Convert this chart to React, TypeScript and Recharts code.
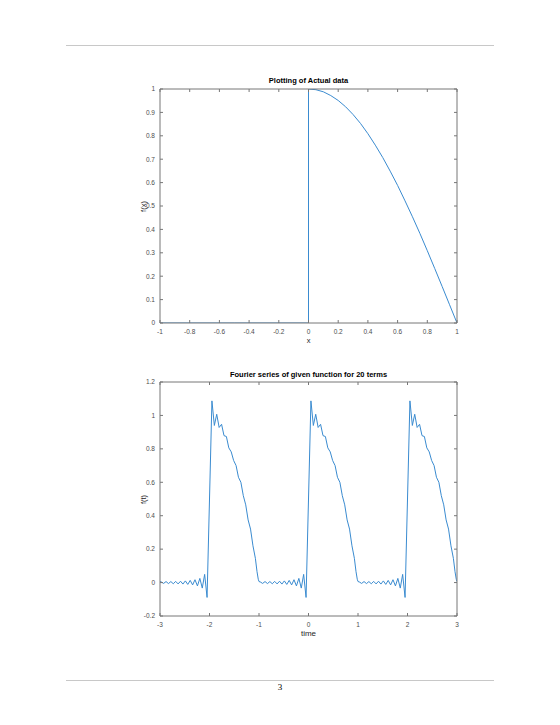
import React from 'react';
import { LineChart, Line, XAxis, YAxis } from 'recharts';

// plot 1: piecewise function
const ACTUAL_X = [-1, -0.5, 0, 0, 0.05, 0.1, 0.15, 0.2, 0.25, 0.3, 0.35, 0.4, 0.45, 0.5, 0.55, 0.6, 0.65, 0.7, 0.75, 0.8, 0.85, 0.9, 0.95, 1];
const ACTUAL_Y = [0, 0, 0, 1, 0.997, 0.988, 0.972, 0.951, 0.924, 0.891, 0.853, 0.809, 0.76, 0.707, 0.649, 0.588, 0.522, 0.454, 0.383, 0.309, 0.233, 0.156, 0.078, 0];
const ACTUAL_X_TICKS = [-1, -0.8, -0.6, -0.4, -0.2, 0, 0.2, 0.4, 0.6, 0.8, 1];
const ACTUAL_Y_TICKS = [0, 0.1, 0.2, 0.3, 0.4, 0.5, 0.6, 0.7, 0.8, 0.9, 1];

// plot 2: one period of the 20-term Fourier sum (t relative to the jump), repeated every 2
const PERIOD_T = [-1, -0.976, -0.927, -0.878, -0.829, -0.78, -0.732, -0.683, -0.634, -0.585, -0.537, -0.488, -0.439, -0.39, -0.341, -0.293, -0.244, -0.195, -0.146, -0.098, -0.049, 0, 0.049, 0.098, 0.146, 0.195, 0.244, 0.293, 0.341, 0.39, 0.439, 0.488, 0.537, 0.585, 0.634, 0.683, 0.732, 0.78, 0.829, 0.878, 0.927, 0.96, 0.985];
const PERIOD_V = [0.006, 0.004, -0.005, 0.006, -0.006, 0.006, -0.007, 0.007, -0.008, 0.008, -0.009, 0.01, -0.011, 0.013, -0.014, 0.017, -0.02, 0.025, -0.033, 0.049, -0.089, 0.5, 1.087, 0.94, 1.007, 0.928, 0.947, 0.879, 0.874, 0.806, 0.782, 0.73, 0.7, 0.63, 0.6, 0.52, 0.465, 0.375, 0.32, 0.22, 0.145, 0.065, 0.02];
const JUMPS = [-2, 0, 2];
const FOURIER_X_TICKS = [-3, -2, -1, 0, 1, 2, 3];
const FOURIER_Y_TICKS = [-0.2, 0, 0.2, 0.4, 0.6, 0.8, 1, 1.2];

const actualData = ACTUAL_X.map((x, i) => ({ x, y: ACTUAL_Y[i] }));
const fourierData = JUMPS.flatMap((c) => PERIOD_T.map((t, i) => ({ t: c + t, v: PERIOD_V[i] })));
fourierData.push({ t: 3, v: PERIOD_V[0] });

const BLUE = '#3a8bd0';
const AXIS = '#777777';
const FONT = '"Liberation Sans", Arial, Helvetica, sans-serif';
const tickStyle = { fill: '#4d4d4d', fontSize: 6.5, fontFamily: FONT };
const NoTick = () => <g />;

type PlotProps = {
    data: { [k: string]: number }[];
    xKey: string;
    yKey: string;
    xDomain: [number, number];
    yDomain: [number, number];
    xTicks: number[];
    yTicks: number[];
};

const MatlabPlot: React.FC<PlotProps> = ({ data, xKey, yKey, xDomain, yDomain, xTicks, yTicks }) => (
    <LineChart width={380} height={300} data={data} margin={{ top: 27, right: 32, left: 0, bottom: 0 }}>
        <XAxis
            dataKey={xKey}
            type="number"
            domain={xDomain}
            ticks={xTicks}
            interval={0}
            allowDataOverflow
            height={38}
            stroke={AXIS}
            tickSize={-3}
            tickMargin={9}
            tick={tickStyle}
        />
        <XAxis
            xAxisId="top"
            orientation="top"
            dataKey={xKey}
            type="number"
            domain={xDomain}
            ticks={xTicks}
            interval={0}
            allowDataOverflow
            height={1}
            stroke={AXIS}
            tickSize={-3}
            tick={NoTick}
        />
        <YAxis
            type="number"
            domain={yDomain}
            ticks={yTicks}
            interval={0}
            allowDataOverflow
            width={50}
            stroke={AXIS}
            tickSize={-3}
            tickMargin={8}
            tick={tickStyle}
        />
        <YAxis
            yAxisId="right"
            orientation="right"
            type="number"
            domain={yDomain}
            ticks={yTicks}
            interval={0}
            allowDataOverflow
            width={1}
            stroke={AXIS}
            tickSize={-3}
            tick={NoTick}
        />
        <Line
            type="linear"
            dataKey={yKey}
            stroke={BLUE}
            strokeWidth={1}
            dot={false}
            activeDot={false}
            isAnimationActive={false}
        />
    </LineChart>
);

const textBase: React.CSSProperties = { position: 'absolute', fontFamily: FONT, color: '#262626', whiteSpace: 'nowrap' };

export default function App() {
    return (
        <div style={{ position: 'absolute', left: 0, top: 0, width: 560, height: 725, background: '#fff' }}>
            <div style={{ position: 'absolute', left: 66, top: 45, width: 428, height: 1, background: '#c8c8c8' }} />

            <div style={{ position: 'absolute', left: 110, top: 61 }}>
                <MatlabPlot
                    data={actualData}
                    xKey="x"
                    yKey="y"
                    xDomain={[-1, 1]}
                    yDomain={[0, 1]}
                    xTicks={ACTUAL_X_TICKS}
                    yTicks={ACTUAL_Y_TICKS}
                />
            </div>
            <div style={{ ...textBase, left: 160, width: 297, top: 76, textAlign: 'center', fontSize: 7.5, fontWeight: 'bold', color: '#000' }}>
                Plotting of Actual data
            </div>
            <div style={{ ...textBase, left: 160, width: 297, top: 336, textAlign: 'center', fontSize: 7.5 }}>x</div>
            <div style={{ ...textBase, left: 123, top: 202, width: 40, textAlign: 'center', fontSize: 7.5, transform: 'rotate(-90deg)' }}>f(x)</div>

            <div style={{ position: 'absolute', left: 110, top: 354 }}>
                <MatlabPlot
                    data={fourierData}
                    xKey="t"
                    yKey="v"
                    xDomain={[-3, 3]}
                    yDomain={[-0.2, 1.2]}
                    xTicks={FOURIER_X_TICKS}
                    yTicks={FOURIER_Y_TICKS}
                />
            </div>
            <div style={{ ...textBase, left: 160, width: 297, top: 370, textAlign: 'center', fontSize: 7.5, fontWeight: 'bold', color: '#000' }}>
                Fourier series of given function for 20 terms
            </div>
            <div style={{ ...textBase, left: 160, width: 297, top: 629, textAlign: 'center', fontSize: 8 }}>time</div>
            <div style={{ ...textBase, left: 123, top: 495, width: 40, textAlign: 'center', fontSize: 7.5, transform: 'rotate(-90deg)' }}>f(t)</div>

            <div style={{ position: 'absolute', left: 66, top: 680, width: 428, height: 1, background: '#c8c8c8' }} />
            <div style={{ position: 'absolute', left: 260, width: 40, top: 682, textAlign: 'center', fontSize: 9, fontFamily: '"Liberation Serif", "DejaVu Serif", serif' }}>3</div>
        </div>
    );
}
